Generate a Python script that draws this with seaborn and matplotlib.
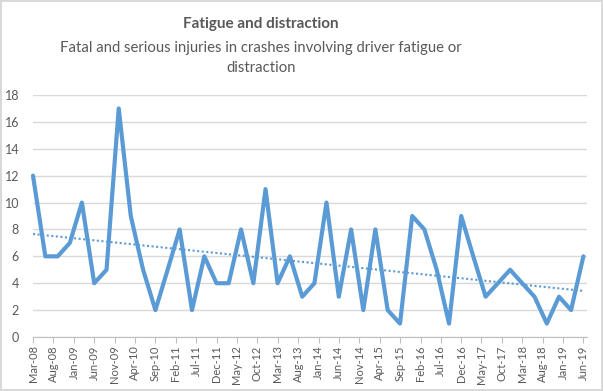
import numpy as np
import pandas as pd
import matplotlib
matplotlib.use("Agg")
import matplotlib.pyplot as plt
import matplotlib.dates as mdates
import seaborn as sns

title = "Fatigue and distraction"
subtitle = "Fatal and serious injuries in crashes involving driver fatigue or\ndistraction"

start_month = "2008-03-01"
values = [12, 6, 6, 7, 10, 4, 5, 17, 9, 5, 2, 5, 8, 2, 6, 4, 4, 8, 4, 11,
          4, 6, 3, 4, 10, 3, 8, 2, 8, 2, 1, 9, 8, 5, 1, 9, 6, 3, 4, 5,
          4, 3, 1, 3, 2, 6]
tick_labels = ["Mar-08", "Aug-08", "Jan-09", "Jun-09", "Nov-09", "Apr-10", "Sep-10",
               "Feb-11", "Jul-11", "Dec-11", "May-12", "Oct-12", "Mar-13", "Aug-13",
               "Jan-14", "Jun-14", "Nov-14", "Apr-15", "Sep-15", "Feb-16", "Jul-16",
               "Dec-16", "May-17", "Oct-17", "Mar-18", "Aug-18", "Jan-19", "Jun-19"]
y_ticks = [0, 2, 4, 6, 8, 10, 12, 14, 16, 18]

dates = pd.date_range(start_month, periods=len(values), freq="3MS")
tick_dates = pd.to_datetime(tick_labels, format="%b-%y")
df = pd.DataFrame({"date": dates, "value": values})

sns.set_theme(style="white")
plt.rcParams["font.family"] = ["Lato", "DejaVu Sans"]

grey = "#595959"
blue = "#5B9BD5"

fig = plt.figure(figsize=(6.03, 3.91), dpi=100)
fig.patch.set_facecolor("white")
fig.patch.set_edgecolor("#D9D9D9")
fig.patch.set_linewidth(1.5)

ax = fig.add_axes([33/603, 1-337/391, (587-33)/603, (337-95)/391])
sns.lineplot(data=df, x="date", y="value", ax=ax, color=blue, linewidth=3.0)

# linear trend line
xnum = mdates.date2num(df["date"])
coef = np.polyfit(xnum, df["value"], 1)
trend = pd.DataFrame({"date": df["date"], "trend": np.polyval(coef, xnum)})
sns.lineplot(data=trend, x="date", y="trend", ax=ax, color=blue,
             linewidth=1.5, linestyle=(0, (1, 1.2)))
for ln in ax.lines:
    ln.set_clip_on(False)

ax.set_ylim(0, 18)
ax.set_yticks(y_ticks)
left = mdates.date2num(dates[0])
right = mdates.date2num(dates[-1]) + 27
ax.set_xlim(left, right)
ax.set_xticks(mdates.date2num(tick_dates))
ax.set_xticklabels(tick_labels, rotation=90, fontsize=8, color=grey)
ax.tick_params(axis="y", labelsize=9, labelcolor=grey, length=0, pad=10)
ax.tick_params(axis="x", length=4, width=0.8, color="#BFBFBF", direction="out", pad=2,
               bottom=True)
ax.yaxis.grid(True, color="#D9D9D9", linewidth=1)
ax.xaxis.grid(False)
for s in ["top", "right", "left"]:
    ax.spines[s].set_visible(False)
ax.spines["bottom"].set_color("#BFBFBF")
ax.spines["bottom"].set_linewidth(0.8)
ax.set_xlabel("")
ax.set_ylabel("")

fig.text(261/603, 1-24/391, title, ha="center", va="center", fontsize=11,
         fontweight="bold", color=grey)
fig.text(261/603, 1-58/391, subtitle, ha="center", va="center", fontsize=10.7,
         color=grey, linespacing=1.55)

fig.savefig("out.png", dpi=100, facecolor=fig.get_facecolor(),
            edgecolor=fig.get_edgecolor())
